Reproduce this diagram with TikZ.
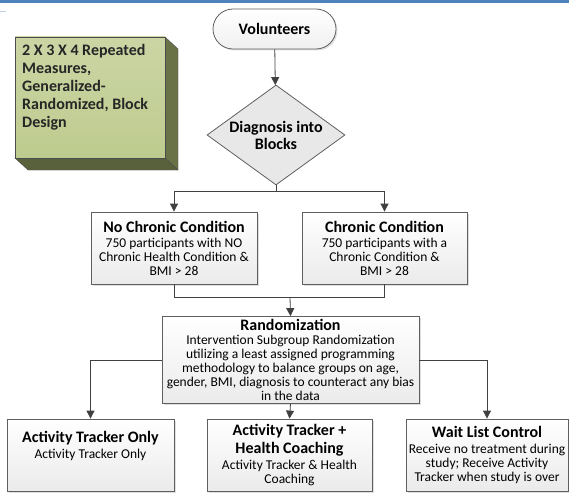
\documentclass[tikz,border=0pt]{standalone}
\usepackage{fontspec}
\setmainfont{Carlito}
\usetikzlibrary{shapes.geometric,shadows,arrows.meta}
\definecolor{linegray}{RGB}{64,64,64}
\definecolor{edgegray}{RGB}{95,95,95}
\definecolor{frontgreen}{RGB}{190,203,142}
\definecolor{sidegreen}{RGB}{104,114,70}
\definecolor{basegreen}{RGB}{88,96,60}
\definecolor{topblue}{RGB}{79,129,189}
\newcommand{\boxtitle}[1]{{\fontsize{16}{18}\selectfont\bfseries #1}}
\tikzset{
    >={Triangle[width=8pt,length=8pt]},
    flowline/.style={draw=linegray,line width=0.8pt},
    procbox/.style={draw=edgegray,line width=0.8pt,top color=white,bottom color=gray!16,
        drop shadow={shadow xshift=1.5pt,shadow yshift=-1.5pt,opacity=0.25},
        align=center,inner sep=2pt,minimum height=72pt,font=\fontsize{13.5}{14}\selectfont},
    startbox/.style={draw=edgegray,line width=0.8pt,rounded corners=20pt,top color=white,bottom color=gray!12,
        drop shadow={shadow xshift=1.5pt,shadow yshift=-1.5pt,opacity=0.25},
        minimum width=123pt,minimum height=40pt,font=\fontsize{16}{18}\selectfont\bfseries},
    decisionbox/.style={draw=edgegray,line width=0.8pt,fill=gray!18,shape=diamond,aspect=1.38,inner sep=0pt,
        minimum width=138pt,minimum height=100pt,align=center,font=\fontsize{16}{17}\selectfont\bfseries}
}
\begin{document}
\begin{tikzpicture}[x=1pt,y=-1pt]
        \useasboundingbox (0,0) rectangle (569,492);
        \clip (0,0) rectangle (569,492);
        %% Top rule
        \fill[topblue] (0,0) rectangle (569,3);
        \draw[topblue!35,line width=1pt] (0,12) -- (6,12);
        %% Design block
        \fill[sidegreen,draw=black!70] (165,37) -- (178,49) -- (178,170) -- (165,158) -- cycle;
        \fill[basegreen,draw=black!70] (15,158) -- (28,170) -- (178,170) -- (165,158) -- cycle;
        \draw[black!70,top color=frontgreen!80!white,bottom color=frontgreen] (15,37) rectangle (165,158);
        \node[anchor=north west,align=left,inner sep=0pt,text=black!85,font=\fontsize{16}{18}\selectfont\bfseries] (design) at (22,44)
            {2 X 3 X 4 Repeated\\Measures,\\Generalized-\\Randomized, Block\\Design};
        %% Flow
        \node[startbox] (vol) at (274.5,29) {Volunteers};
        \node[decisionbox] (diag) at (276,135) {Diagnosis into\\Blocks};
        \node[procbox,minimum width=166pt] (nochron) at (174,248)
            {\boxtitle{No Chronic Condition}\\[1pt]750 participants with NO\\Chronic Health Condition \&\\BMI > 28};
        \node[procbox,minimum width=165pt] (chron) at (384.5,248)
            {\boxtitle{Chronic Condition}\\[1pt]750 participants with a\\Chronic Condition \&\\BMI > 28};
        \node[procbox,minimum width=257pt,minimum height=87pt,inner sep=1pt] (rand) at (290.5,360)
            {\boxtitle{Randomization}\\Intervention Subgroup Randomization\\utilizing a least assigned programming\\methodology to balance groups on age,\\gender, BMI, diagnosis to counteract any bias\\in the data};
        \node[procbox,minimum width=167pt] (trkonly) at (90.5,455)
            {\boxtitle{Activity Tracker Only}\\[2pt]Activity Tracker Only\\[6pt]};
        \node[procbox,minimum width=165pt] (trkcoach) at (289.5,455)
            {\boxtitle{Activity Tracker +}\\[4pt]\boxtitle{Health Coaching}\\[2pt]Activity Tracker \& Health\\Coaching};
        \node[procbox,minimum width=162pt] (wait) at (487,455)
            {\boxtitle{Wait List Control}\\[2pt]Receive no treatment during\\study; Receive Activity\\Tracker when study is over};
        %% Connectors
        \coordinate (split) at (276,191);
        \coordinate (merge) at (290,297);
        \draw[flowline,->] (vol) -- (diag);
        \draw[flowline] (diag.south) -- (split);
        \draw[flowline,->] (split) -| (nochron.north);
        \draw[flowline,->] (split) -| (chron.north);
        \draw[flowline] (nochron.south) |- (merge);
        \draw[flowline] (chron.south) |- (merge);
        \draw[flowline,->] (merge) -- (rand.north);
        \draw[flowline,->] (rand.west) -| (trkonly.north);
        \draw[flowline,->] (rand.south) -- (trkcoach.north);
        \draw[flowline,->] (rand.east) -| (wait.north);
    \end{tikzpicture}
\end{document}
